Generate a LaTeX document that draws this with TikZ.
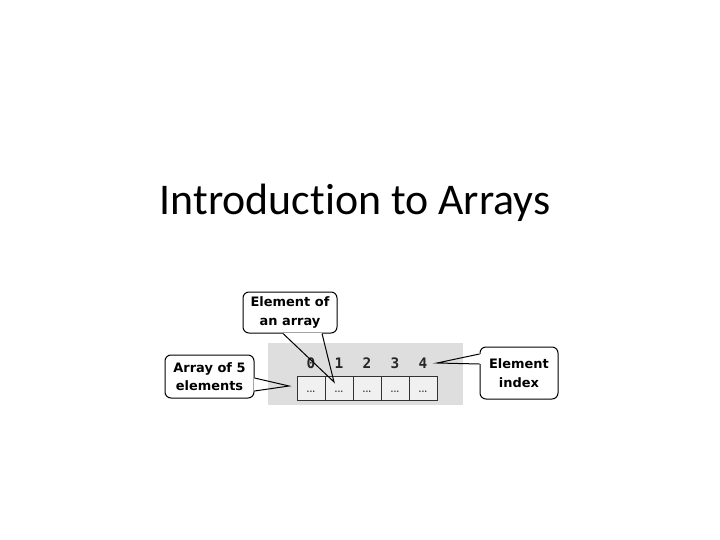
\documentclass[tikz,border=0pt]{standalone}
\usepackage{fontspec}
\setmainfont{Carlito}[Ligatures=NoCommon]
\newfontfamily\boxfont{DejaVu Sans}
\newfontfamily\digitfont{DejaVu Sans Mono}
\usetikzlibrary{calc}

\tikzset{
  callout/.style={draw, line width=1bp, rounded corners=6bp, fill=white, align=center, inner sep=0pt,
    font={\boxfont\bfseries\fontsize{13}{18.5}\selectfont}},
  pointer/.style={line width=1bp, line join=miter},
  cell/.style={draw=black!80, fill=black!6, line width=1bp, minimum width=28bp, minimum height=24bp, inner sep=0pt},
  dots/.style={inner sep=0pt, text=black!75, font={\boxfont\bfseries\fontsize{7.5}{8}\selectfont}},
  digit/.style={anchor=base, inner sep=0pt, text=black!85, font={\digitfont\bfseries\fontsize{14.5}{15}\selectfont}}
}

\begin{document}
\begin{tikzpicture}[x=1bp,y=-1bp]
\useasboundingbox (0,0) rectangle (720,540);
\node[anchor=base,font={\fontsize{44}{50}\selectfont}] (title) at (355,215) {Introduction to Arrays};
% the array
\fill[black!13] (268,343) rectangle (463,405);
\foreach \i in {0,...,4} {
\node[cell] (c\i) at (311+28*\i,388) {};
\node[dots] (e\i) at (311+28*\i,392) {...};
\node[digit] (d\i) at (311+28*\i,368) {\i};
}
% callouts
\node[callout,minimum width=89bp,minimum height=43bp] (arr5) at (209.5,376.5) {Array of 5\\elements};
\node[callout,minimum width=94bp,minimum height=41bp] (elem) at (290,312.5) {Element of\\an array};
\node[callout,minimum width=78bp,minimum height=52bp] (idx) at (519,373) {Element\\index};
\coordinate (arrtip) at (289,386);
\coordinate (elemtip) at (334,382);
\coordinate (idxtip) at (437,363);
\draw[white,line width=2bp] ($(arr5.east)+(0,1.5)$) -- ($(arr5.east)+(0,14.5)$);
\draw[pointer] ($(arr5.east)+(0,1.5)$) -- (arrtip) -- ($(arr5.east)+(0,14.5)$);
\draw[white,line width=2bp] ($(elem.south)+(-7,0)$) -- ($(elem.south)+(32,0)$);
\draw[pointer] ($(elem.south)+(-7,0)$) -- (elemtip) -- ($(elem.south)+(32,0)$);
\draw[white,line width=2bp] ($(idx.west)+(0,-19)$) -- ($(idx.west)+(0,-9)$);
\draw[pointer] ($(idx.west)+(0,-19)$) -- (idxtip) -- ($(idx.west)+(0,-9)$);
\end{tikzpicture}
\end{document}
